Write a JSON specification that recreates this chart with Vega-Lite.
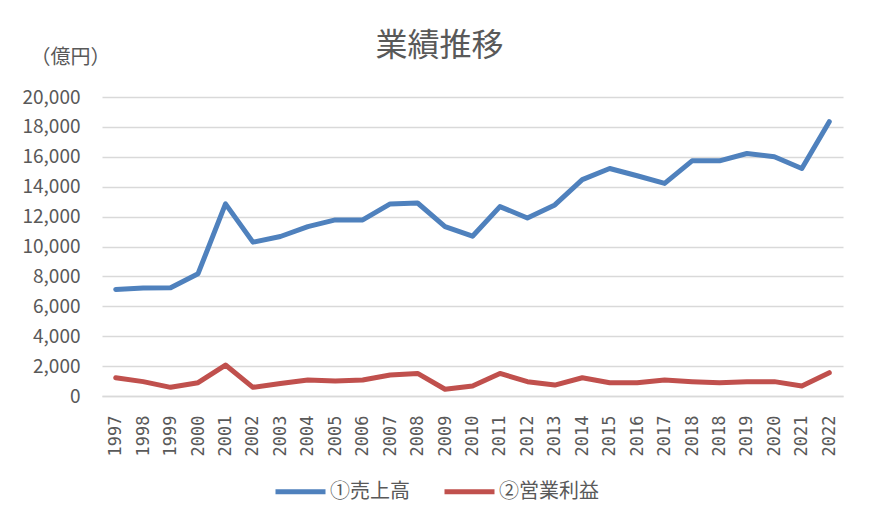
{
  "$schema": "https://vega.github.io/schema/vega-lite/v6.json",
  "autosize": {"type": "none"},
  "width": 741,
  "height": 299,
  "padding": {"left": 102, "top": 97, "right": 35, "bottom": 136},
  "background": "white",
  "title": {
    "text": "業績推移",
    "font": "Noto Sans CJK JP",
    "fontSize": 32,
    "fontWeight": "normal",
    "color": "#595959",
    "anchor": "middle",
    "dx": -33,
    "offset": -16
  },
  "config": {
    "view": {"stroke": null},
    "font": "Noto Sans CJK JP"
  },
  "data": {
    "values": [
      {"year": "1997", "series": "①売上高", "value": 7130},
      {"year": "1998", "series": "①売上高", "value": 7220},
      {"year": "1999", "series": "①売上高", "value": 7240},
      {"year": "2000", "series": "①売上高", "value": 8180},
      {"year": "2001", "series": "①売上高", "value": 12850},
      {"year": "2002", "series": "①売上高", "value": 10290},
      {"year": "2003", "series": "①売上高", "value": 10670},
      {"year": "2004", "series": "①売上高", "value": 11330},
      {"year": "2005", "series": "①売上高", "value": 11780},
      {"year": "2006", "series": "①売上高", "value": 11780},
      {"year": "2007", "series": "①売上高", "value": 12850},
      {"year": "2008", "series": "①売上高", "value": 12910},
      {"year": "2009", "series": "①売上高", "value": 11330},
      {"year": "2010", "series": "①売上高", "value": 10690},
      {"year": "2011", "series": "①売上高", "value": 12670},
      {"year": "2012", "series": "①売上高", "value": 11910},
      {"year": "2013", "series": "①売上高", "value": 12780},
      {"year": "2014", "series": "①売上高", "value": 14470},
      {"year": "2015", "series": "①売上高", "value": 15220},
      {"year": "2016", "series": "①売上高", "value": 14730},
      {"year": "2017", "series": "①売上高", "value": 14220},
      {"year": "2018", "series": "①売上高", "value": 15730},
      {"year": " 2018", "series": "①売上高", "value": 15730},
      {"year": "2019", "series": "①売上高", "value": 16220},
      {"year": "2020", "series": "①売上高", "value": 16000},
      {"year": "2021", "series": "①売上高", "value": 15220},
      {"year": "2022", "series": "①売上高", "value": 18350},
      {"year": "1997", "series": "②営業利益", "value": 1220},
      {"year": "1998", "series": "②営業利益", "value": 960},
      {"year": "1999", "series": "②営業利益", "value": 580},
      {"year": "2000", "series": "②営業利益", "value": 890},
      {"year": "2001", "series": "②営業利益", "value": 2070},
      {"year": "2002", "series": "②営業利益", "value": 580},
      {"year": "2003", "series": "②営業利益", "value": 840},
      {"year": "2004", "series": "②営業利益", "value": 1070},
      {"year": "2005", "series": "②営業利益", "value": 1000},
      {"year": "2006", "series": "②営業利益", "value": 1070},
      {"year": "2007", "series": "②営業利益", "value": 1400},
      {"year": "2008", "series": "②営業利益", "value": 1510},
      {"year": "2009", "series": "②営業利益", "value": 450},
      {"year": "2010", "series": "②営業利益", "value": 670},
      {"year": "2011", "series": "②営業利益", "value": 1510},
      {"year": "2012", "series": "②営業利益", "value": 960},
      {"year": "2013", "series": "②営業利益", "value": 730},
      {"year": "2014", "series": "②営業利益", "value": 1220},
      {"year": "2015", "series": "②営業利益", "value": 890},
      {"year": "2016", "series": "②営業利益", "value": 890},
      {"year": "2017", "series": "②営業利益", "value": 1070},
      {"year": "2018", "series": "②営業利益", "value": 960},
      {"year": " 2018", "series": "②営業利益", "value": 890},
      {"year": "2019", "series": "②営業利益", "value": 960},
      {"year": "2020", "series": "②営業利益", "value": 960},
      {"year": "2021", "series": "②営業利益", "value": 670},
      {"year": "2022", "series": "②営業利益", "value": 1560}
    ]
  },
  "mark": {"type": "line", "strokeWidth": 5, "strokeCap": "round", "strokeJoin": "round"},
  "encoding": {
    "x": {
      "field": "year",
      "type": "ordinal",
      "sort": null,
      "scale": {"padding": 0.5},
      "axis": {
        "title": null,
        "labelAngle": 270,
        "labelFont": "DejaVu Sans Mono",
        "labelFontSize": 17,
        "labelColor": "#595959",
        "labelPadding": 19,
        "ticks": false,
        "domainColor": "#d9d9d9",
        "domainWidth": 1.5,
        "grid": false
      }
    },
    "y": {
      "field": "value",
      "type": "quantitative",
      "scale": {"domain": [0, 20000]},
      "axis": {
        "values": [0, 2000, 4000, 6000, 8000, 10000, 12000, 14000, 16000, 18000, 20000],
        "format": ",.0f",
        "title": "（億円）",
        "titleAngle": 0,
        "titleAlign": "left",
        "titleBaseline": "middle",
        "titleX": -72,
        "titleY": -40,
        "titleFontSize": 20,
        "titleFontWeight": "normal",
        "titleColor": "#595959",
        "labelFontSize": 19,
        "labelColor": "#595959",
        "labelPadding": 22,
        "ticks": false,
        "domain": false,
        "gridColor": "#d9d9d9",
        "gridWidth": 1.5
      }
    },
    "color": {
      "field": "series",
      "type": "nominal",
      "scale": {"domain": ["①売上高", "②営業利益"], "range": ["#4F81BD", "#C0504D"]},
      "legend": {
        "title": null,
        "orient": "none",
        "direction": "horizontal",
        "legendX": 171,
        "legendY": 367,
        "symbolType": "stroke",
        "symbolSize": 2500,
        "symbolStrokeWidth": 5,
        "labelFontSize": 20,
        "labelColor": "#595959",
        "labelOffset": 2,
        "columnPadding": 24
      }
    }
  }
}
